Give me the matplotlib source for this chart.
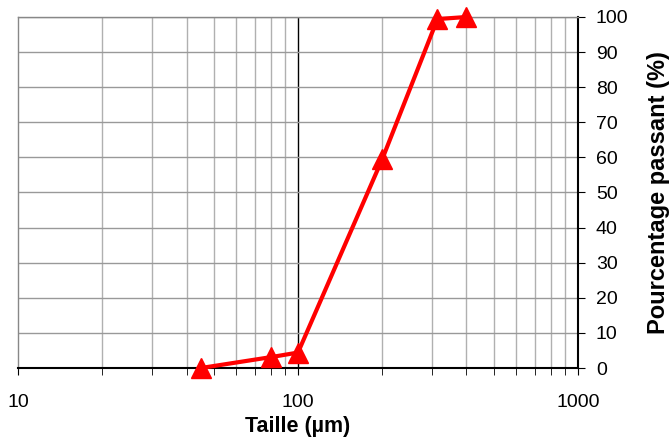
import matplotlib
matplotlib.use("Agg")
import matplotlib.pyplot as plt
from matplotlib.ticker import LogLocator, FixedLocator, NullFormatter

plt.rcParams["font.family"] = ["Liberation Sans", "DejaVu Sans"]

taille = [45, 80, 100, 200, 315, 400]
passant = [0, 3.1, 4.4, 59.5, 99.4, 100]
y_ticks = list(range(0, 101, 10))

fig = plt.figure(figsize=(6.7, 4.41), dpi=100)
ax = fig.add_axes([0.027, 0.1655, 0.8355, 0.796])

ax.set_xscale("log")
ax.set_xlim(10, 1000)
ax.set_ylim(0, 100)

ax.xaxis.set_major_locator(FixedLocator([10, 100, 1000]))
ax.xaxis.set_minor_locator(LogLocator(base=10, subs=range(2, 10)))
ax.xaxis.set_minor_formatter(NullFormatter())
ax.set_xticklabels(["10", "100", "1000"])
ax.set_yticks(y_ticks)

ax.grid(True, which="minor", axis="x", color="#b0b0b0", linewidth=1.0)
ax.grid(True, which="major", axis="y", color="#999999", linewidth=1.0)
ax.axvline(100, color="black", linewidth=1.0, zorder=1)

ax.yaxis.tick_right()
ax.yaxis.set_label_position("right")
ax.tick_params(axis="y", which="major", direction="out", length=5, labelsize=14, pad=8)
ax.tick_params(axis="x", which="major", direction="out", length=5, labelsize=14, pad=14)
ax.tick_params(axis="x", which="minor", direction="out", length=5)

for side in ["left", "top"]:
    ax.spines[side].set_color("#888888")
    ax.spines[side].set_linewidth(1.0)
for side in ["right", "bottom"]:
    ax.spines[side].set_color("black")
    ax.spines[side].set_linewidth(1.5)

ax.plot(taille, passant, color="red", linewidth=3, marker="^", markersize=14,
        clip_on=False, zorder=5)

ax.set_xlabel("Taille (µm)", fontsize=15.5, fontweight="bold", labelpad=3)
ax.set_ylabel("Pourcentage passant (%)", fontsize=17, fontweight="bold", labelpad=13)

fig.savefig("out.png", dpi=100)
